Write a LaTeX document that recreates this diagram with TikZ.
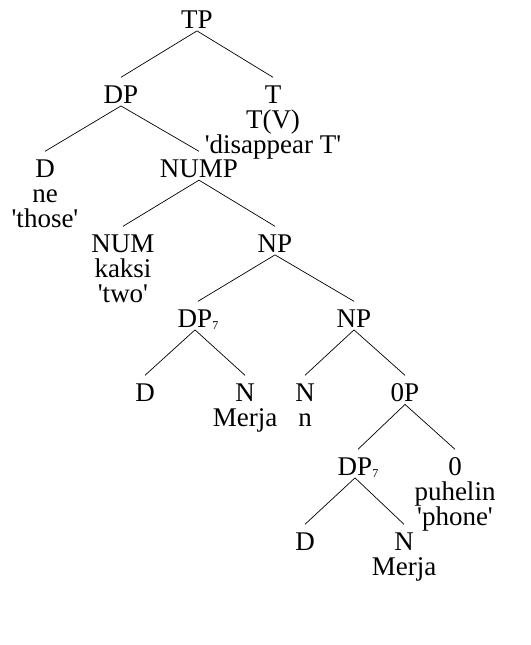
\documentclass[tikz,border=0pt]{standalone}
\usepackage{fontspec}
\setmainfont{Liberation Serif}[Ligatures=TeXOff]
\usepackage{tikz}

\begin{document}
\begin{tikzpicture}[x=1pt, y=-1pt, every node/.style={align=center, inner sep=0pt, anchor=north, font=\fontsize{27}{25}\selectfont}, branch/.style={line width=0.7pt}]
\useasboundingbox (0,0) rectangle (530,645);

\node (TP) at (197,10.3) {TP};
\node (DP) at (121,85.3) {DP};
\node (T) at (273,85.3) {T\\T(V)\\'disappear T'};
\node (D) at (45,159.3) {D\\ne\\'those'};
\node (NUMP) at (199,159.3) {NUMP};
\node (NUM) at (123,234.3) {NUM\\kaksi\\'two'};
\node (NP) at (275,234.3) {NP};
\node (DPa) at (198,309.3) {DP\raisebox{-2.5pt}{\fontsize{12}{12}\selectfont 7}};
\node (NPb) at (354,309.3) {NP};
\node (Da) at (145,383.3) {D};
\node (Na) at (245,383.3) {N\\Merja};
\node (Nb) at (305,383.3) {N\\n};
\node (ZeroP) at (405,383.3) {0P};
\node (DPb) at (358,457.3) {DP\raisebox{-2.5pt}{\fontsize{12}{12}\selectfont 7}};
\node (Zero) at (455,457.3) {0\\puhelin\\'phone'};
\node (Db) at (305,532.3) {D};
\node (Nc) at (404,532.3) {N\\Merja};

\draw[branch] ([yshift=-2.5pt]TP.south) -- ([yshift=8pt]DP.north);
\draw[branch] ([yshift=-2.5pt]TP.south) -- ([yshift=8pt]T.north);
\draw[branch] ([yshift=-2.5pt]DP.south) -- ([yshift=8pt]D.north);
\draw[branch] ([yshift=-2.5pt]DP.south) -- ([yshift=8pt]NUMP.north);
\draw[branch] ([yshift=-2.5pt]NUMP.south) -- ([yshift=8pt]NUM.north);
\draw[branch] ([yshift=-2.5pt]NUMP.south) -- ([yshift=8pt]NP.north);
\draw[branch] ([yshift=-2.5pt]NP.south) -- ([yshift=8pt]DPa.north);
\draw[branch] ([yshift=-2.5pt]NP.south) -- ([yshift=8pt]NPb.north);
\draw[branch] ([xshift=-3pt]DPa.south) -- ([yshift=8pt]Da.north);
\draw[branch] ([xshift=-3pt]DPa.south) -- ([yshift=8pt]Na.north);
\draw[branch] ([yshift=-2.5pt]NPb.south) -- ([yshift=8pt]Nb.north);
\draw[branch] ([yshift=-2.5pt]NPb.south) -- ([yshift=8pt]ZeroP.north);
\draw[branch] ([yshift=-2.5pt]ZeroP.south) -- ([yshift=8pt]DPb.north);
\draw[branch] ([yshift=-2.5pt]ZeroP.south) -- ([yshift=8pt]Zero.north);
\draw[branch] ([xshift=-3pt]DPb.south) -- ([yshift=8pt]Db.north);
\draw[branch] ([xshift=-3pt]DPb.south) -- ([yshift=8pt]Nc.north);
\end{tikzpicture}
\end{document}
